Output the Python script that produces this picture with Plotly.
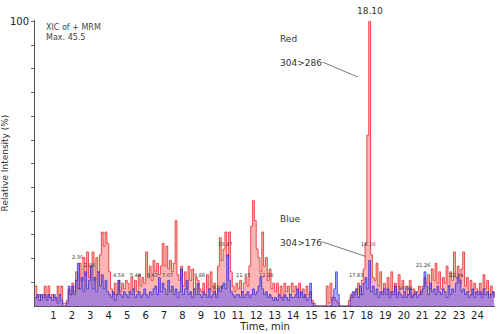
import plotly.graph_objects as go

# time axis: 0.0 .. 24.9 min, 0.1 min steps
times = [round(i * 0.1, 1) for i in range(250)]

# Red trace 304>286 (relative intensity %), one row per minute
red = [
    7, 3, 4, 2, 4, 7, 3, 7, 3, 4,
    3, 2, 7, 4, 7, 1, 1, 2, 6, 4,
    8, 5, 12, 6, 15, 9, 17, 11, 19, 10,
    14, 19, 9, 17, 12, 18, 26, 21, 26, 22,
    12, 6, 4, 8, 4, 9, 5, 8, 6, 9,
    8, 5, 10, 6, 9, 5, 11, 7, 10, 8,
    19, 10, 14, 9, 16, 12, 15, 11, 14, 22,
    14, 21, 13, 16, 12, 15, 30, 11, 9, 14,
    7, 12, 6, 14, 9, 13, 6, 10, 9, 6,
    5, 8, 4, 11, 6, 12, 5, 8, 4, 14,
    24, 16, 20, 26, 17, 26, 12, 7, 5, 8,
    6, 9, 5, 8, 10, 7, 14, 28, 37, 30,
    20, 17, 12, 26, 14, 17, 9, 13, 6, 8,
    5, 8, 4, 7, 3, 8, 5, 7, 4, 8,
    5, 7, 3, 8, 4, 6, 3, 7, 4, 5,
    2, 1, 0, 0, 0, 0, 0, 0, 7, 1,
    8, 2, 3, 2, 1, 0, 0, 0, 0, 0,
    2, 4, 3, 5, 6, 8, 4, 9, 13, 22,
    60, 100, 18, 10, 9, 15, 7, 12, 5, 8,
    6, 10, 4, 12, 5, 8, 4, 11, 6, 9,
    5, 7, 4, 9, 3, 6, 4, 5, 7, 4,
    7, 10, 8, 11, 6, 13, 9, 15, 8, 12,
    6, 10, 8, 14, 7, 12, 9, 19, 10, 14,
    8, 13, 19, 7, 10, 5, 9, 4, 8, 6,
    5, 8, 4, 11, 6, 9, 4, 7, 5, 3,
]

# Blue trace 304>176 (relative intensity %)
blue = [
    3, 4, 2, 4, 3, 4, 2, 4, 3, 2,
    4, 3, 1, 4, 2, 0, 0, 1, 7, 4,
    7, 4, 9, 15, 6, 10, 5, 12, 6, 9,
    14, 6, 10, 5, 12, 7, 11, 6, 9, 5,
    4, 3, 5, 2, 4, 9, 4, 3, 5, 4,
    3, 5, 4, 6, 3, 4, 5, 3, 4, 6,
    4, 3, 5, 4, 6, 7, 4, 10, 5, 8,
    6, 4, 9, 5, 7, 4, 6, 3, 5, 13,
    4, 6, 9, 4, 5, 3, 6, 4, 8, 4,
    3, 5, 4, 3, 6, 3, 4, 5, 3, 6,
    5, 7, 8, 6, 18, 9, 5, 4, 3, 4,
    4, 3, 5, 3, 4, 5, 3, 4, 6, 4,
    5, 7, 10, 6, 4, 5, 3, 4, 3, 2,
    3, 2, 4, 3, 2, 4, 3, 2, 4, 3,
    3, 4, 6, 3, 5, 3, 4, 2, 3, 8,
    1, 0, 0, 0, 0, 0, 0, 0, 0, 0,
    0, 3, 6, 12, 4, 0, 0, 0, 0, 0,
    0, 3, 5, 4, 6, 3, 7, 4, 8, 10,
    6, 16, 5, 7, 4, 6, 3, 5, 4, 6,
    4, 6, 3, 5, 4, 7, 3, 5, 4, 3,
    5, 3, 4, 6, 3, 4, 5, 3, 4, 5,
    6, 12, 7, 4, 8, 5, 6, 4, 7, 5,
    4, 6, 5, 3, 7, 4, 6, 5, 8, 10,
    9, 5, 6, 4, 5, 3, 4, 6, 3, 5,
    4, 5, 3, 6, 4, 5, 3, 4, 5, 3,
]

# small peak labels: (time, intensity, text)
peak_t = [2.33, 2.95, 4.55, 5.45, 6.35, 7.2, 8.9, 9.9, 10.3, 11.3, 12.55, 17.4, 18.05, 20.05, 21.05, 22.85]
peak_y = [15.5, 12.5, 9, 9, 9, 9, 9, 5, 20, 9, 9, 9, 20, 4.5, 12.5, 9]
peak_txt = ["2.30", "2.86", "4.59", "5.44", "6.65", "7.07", "8.86", "9.84", "10.47",
            "11.45", "12.26", "17.83", "18.10", "19.93", "21.26", "22.94"]

x_ticks = list(range(1, 25))
y_ticks = [i * 100 / 12 for i in range(1, 13)]

font = "DejaVu Sans, Verdana, sans-serif"

fig = go.Figure()
fig.add_trace(go.Scatter(
    x=times, y=red, mode="lines", fill="tozeroy", line_shape="hv",
    line=dict(color="rgba(230,20,20,0.9)", width=0.8),
    fillcolor="rgba(255,70,70,0.4)", hoverinfo="skip", showlegend=False))
fig.add_trace(go.Scatter(
    x=times, y=blue, mode="lines", fill="tozeroy", line_shape="hv",
    line=dict(color="rgba(30,30,220,0.85)", width=0.8),
    fillcolor="rgba(70,70,255,0.45)", hoverinfo="skip", showlegend=False))

ann = []
for t, y, s in zip(peak_t, peak_y, peak_txt):
    ann.append(dict(x=t, y=y, text=s, showarrow=False, yanchor="bottom",
                    font=dict(size=5, color="#333"), xref="x", yref="y"))

ann += [
    dict(x=18.15, y=100, text="18.10", showarrow=False, yanchor="bottom", yshift=3,
         font=dict(size=9, color="#333")),
    dict(x=0.5, y=98, text="XIC of + MRM", showarrow=False, xanchor="left",
         font=dict(size=8, color="#444")),
    dict(x=0.5, y=94.2, text="Max. 45.5", showarrow=False, xanchor="left",
         font=dict(size=8, color="#444")),
    dict(x=13.2, y=94, text="Red", showarrow=False, xanchor="left",
         font=dict(size=9, color="#333")),
    dict(x=13.2, y=85.5, text="304>286", showarrow=False, xanchor="left",
         font=dict(size=9, color="#333")),
    dict(x=13.2, y=30.5, text="Blue", showarrow=False, xanchor="left",
         font=dict(size=9, color="#333")),
    dict(x=13.2, y=22.3, text="304>176", showarrow=False, xanchor="left",
         font=dict(size=9, color="#333")),
    dict(x=-0.4, y=0, text="0", showarrow=False, yanchor="top", yshift=-1,
         font=dict(size=10, color="#222")),
]

shapes = [
    dict(type="line", x0=15.6, y0=85.7, x1=17.5, y1=80.5, xref="x", yref="y",
         line=dict(color="#555", width=0.8)),
    dict(type="line", x0=15.55, y0=22.6, x1=17.95, y1=17.4, xref="x", yref="y",
         line=dict(color="#555", width=0.8)),
]

fig.update_layout(
    width=499, height=334,
    margin=dict(l=23, r=4, t=20, b=27),
    paper_bgcolor="white", plot_bgcolor="white",
    font=dict(family=font, size=10, color="#222"),
    annotations=ann, shapes=shapes,
    xaxis=dict(range=[0, 24.95], tickvals=x_ticks, ticktext=[str(v) for v in x_ticks],
               showgrid=False, zeroline=False, showline=True, linecolor="#555",
               linewidth=1, ticks="", tickfont=dict(size=10, color="#222"),
               title=dict(text="Time, min", font=dict(size=10, color="#222"), standoff=2)),
    yaxis=dict(range=[0, 100.5], tickvals=y_ticks,
               ticktext=[""] * 11 + ["100"],
               showgrid=False, zeroline=False, showline=True, linecolor="#555",
               linewidth=1, ticks="outside", ticklen=3, tickcolor="#666",
               tickfont=dict(size=10, color="#222"),
               title=dict(text="Relative Intensity (%)", font=dict(size=9, color="#333"),
                          standoff=0)),
)

fig.write_html("out.html")
